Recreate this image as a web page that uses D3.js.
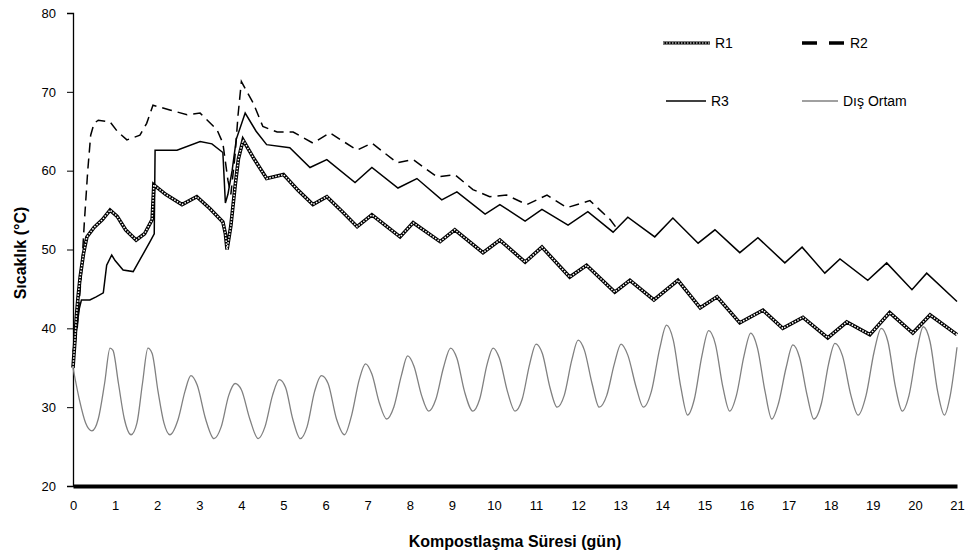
<html>
<head>
<script src="https://d3js.org/d3.v7.min.js"></script>
<style>
  body { margin: 0; background: #fff; }
  svg text { font-family: Arial, "Liberation Sans", sans-serif; fill: #000; }
  .axis .domain { stroke: #000; }
  .axis line { stroke: #000; }
</style>
</head>
<body>
<svg width="968" height="557" id="chart"></svg>
<script>
// tick labels
const dayTicks = [0, 1, 2, 3, 4, 5, 6, 7, 8, 9, 10, 11, 12, 13, 14, 15, 16, 17, 18, 19, 20, 21];
const tempTicks = [20, 30, 40, 50, 60, 70, 80];
const seriesNames = ['R1', 'R2', 'R3', 'Dış Ortam'];

// [day, °C]
const r1 = [[0,35],[0.04,38],[0.08,41.5],[0.12,44],[0.17,46.5],[0.25,49.5],[0.33,51.6],[0.5,52.8],[0.7,53.8],
  [0.88,55],[1.05,54.2],[1.25,52.5],[1.5,51.2],[1.7,52],[1.88,53.8],[1.92,58.2],[2.2,57],[2.59,55.7],
  [2.94,56.7],[3.25,55.2],[3.56,53.5],[3.62,52],[3.66,50],[3.75,53],[3.85,58],[3.93,61.5],[4.04,63.9],
  [4.3,61.5],[4.6,59],[5.0,59.5],[5.35,57.5],[5.7,55.7],[6.03,56.7],[6.4,54.8],[6.75,52.9],[7.1,54.4],
  [7.77,51.6],[8.08,53.4],[8.72,51],[9.07,52.5],[9.74,49.6],[10.14,51.2],[10.74,48.4],[11.14,50.3],
  [11.8,46.5],[12.2,48],[12.87,44.6],[13.23,46.1],[13.8,43.6],[14.37,46.1],[14.9,42.6],[15.3,44],
  [15.84,40.7],[16.39,42.3],[16.86,40],[17.34,41.4],[17.93,38.8],[18.38,40.8],[18.93,39.2],[19.4,42],
  [19.95,39.4],[20.36,41.7],[21,39.2]];

const r2 = [[0,36],[0.1,40],[0.2,47],[0.27,53.5],[0.35,60],[0.42,64.5],[0.5,66],[0.6,66.4],[0.88,66.2],
  [1.05,65],[1.28,63.9],[1.59,64.5],[1.75,66],[1.9,68.3],[2.3,67.7],[2.71,67.1],[3.02,67.3],[3.42,65.2],
  [3.56,63.5],[3.68,58.8],[3.75,57],[3.85,62],[3.92,67],[4.0,71.3],[4.28,68.6],[4.51,65.6],[4.85,64.9],
  [5.23,64.9],[5.7,63.5],[6.1,64.8],[6.75,62.6],[7.1,63.5],[7.7,61],[8.08,61.4],[8.65,59.2],[9.07,59.5],
  [9.5,57.6],[9.9,56.7],[10.3,56.9],[10.78,55.7],[11.26,56.9],[11.73,55.3],[12.28,56.2],[12.76,53.8],
  [12.9,52.8]];

const r3 = [[0,37],[0.05,38.5],[0.1,40.5],[0.15,42.5],[0.2,43.6],[0.4,43.6],[0.55,44],[0.72,44.5],
  [0.8,48],[0.92,49.3],[1.0,48.6],[1.19,47.4],[1.43,47.2],[1.6,48.8],[1.83,51],[1.93,52],[1.95,62.6],
  [2.47,62.6],[3.02,63.7],[3.3,63.4],[3.56,62.3],[3.62,55.9],[3.68,57],[3.78,60],[3.88,64],[4.09,67.3],
  [4.35,65],[4.6,63.3],[5.15,62.9],[5.63,60.4],[6.03,61.4],[6.7,58.5],[7.1,60.4],[7.72,57.8],[8.17,59],
  [8.76,56.3],[9.12,57.3],[9.79,54.5],[10.14,55.7],[10.74,53.6],[11.14,55.1],[11.76,53.1],[12.23,54.8],
  [12.83,52.2],[13.18,54.1],[13.82,51.6],[14.25,54],[14.85,50.8],[15.25,52.5],[15.84,49.6],[16.27,51.5],
  [16.91,48.3],[17.32,50.3],[17.86,47],[18.22,48.8],[18.88,46.1],[19.33,48.3],[19.93,44.9],[20.28,47],
  [21,43.4]];

const disOrtam = [[0,35],[0.15,31],[0.3,28],[0.45,27],[0.6,28.5],[0.75,33],[0.88,37.5],[0.95,37.2],
  [1.08,33],[1.22,28.5],[1.38,26.5],[1.52,28],[1.65,33],[1.78,37.5],[1.88,36.8],[2.02,32],[2.16,28],
  [2.3,26.5],[2.5,28.5],[2.66,32],[2.8,34],[2.95,32.8],[3.15,28.5],[3.35,26],[3.52,27.5],[3.7,31.5],
  [3.85,33],[4.0,32.2],[4.2,28.5],[4.4,26],[4.56,27.5],[4.74,31.5],[4.9,33.5],[5.05,32.5],[5.22,28.5],
  [5.4,26],[5.56,27.5],[5.74,32],[5.9,34],[6.06,33],[6.26,28.5],[6.45,26.5],[6.62,29],[6.8,33.5],
  [6.95,35.5],[7.1,34.2],[7.28,30.5],[7.45,28.5],[7.62,30],[7.8,34],[7.95,36.5],[8.1,35.2],[8.28,31.5],
  [8.45,29.5],[8.62,31],[8.8,35],[8.97,37.5],[9.12,36.2],[9.3,32],[9.5,29.5],[9.66,31],[9.84,35.5],
  [9.98,37.5],[10.13,36.2],[10.32,32],[10.5,29.5],[10.67,31],[10.85,35.5],[11.0,38],[11.15,36.8],
  [11.33,32.5],[11.5,30],[11.67,31.5],[11.85,36],[12.0,38.5],[12.15,37.2],[12.33,33],[12.5,30],
  [12.68,31.5],[12.86,35.5],[13.02,38],[13.18,36.6],[13.38,32.5],[13.55,30],[13.74,32],[13.94,37.5],
  [14.1,40.4],[14.26,38.5],[14.44,32.5],[14.6,29],[14.76,31],[14.94,36.5],[15.1,39.7],[15.26,38],
  [15.44,32.5],[15.6,29.5],[15.76,31.5],[15.94,36.5],[16.1,39.4],[16.26,37.5],[16.44,32],[16.6,28.5],
  [16.76,30.5],[16.94,35],[17.1,37.9],[17.26,36.3],[17.44,31.5],[17.6,28.5],[17.78,30.5],[17.95,35.5],
  [18.1,38.1],[18.28,36.5],[18.48,31.5],[18.65,29],[18.84,31.5],[19.03,37],[19.2,40],[19.36,38.3],
  [19.54,32.5],[19.7,29.5],[19.86,31.5],[20.04,37],[20.2,40.2],[20.36,38.3],[20.54,32],[20.7,29],
  [20.84,31.5],[21,37.6]];

let margin = { "top": 13, "right": 11, "bottom": 71, "left": 73 };
const svg = d3.select('svg#chart');
const width = +svg.attr('width');
const height = +svg.attr('height');
const chartWidth = width - margin.left - margin.right;
const chartHeight = height - margin.top - margin.bottom;

let dayScale = d3.scaleLinear().domain([0, 21]).range([0, chartWidth]);
let tempScale = d3.scaleLinear().domain([20, 80]).range([chartHeight, 0]);

// y axis
let yAxis = d3.axisLeft(tempScale).tickValues(tempTicks).tickSize(6).tickPadding(11);
let yG = svg.append('g')
  .attr('class', 'y axis')
  .attr('transform', `translate(${margin.left}, ${margin.top})`)
  .call(yAxis);
yG.selectAll('text').attr('font-size', 13);
yG.select('.domain').attr('stroke-width', 1.3);

let chart = svg.append('g')
  .attr('transform', `translate(${margin.left}, ${margin.top})`);

let line = d3.line()
  .x(d => dayScale(d[0]))
  .y(d => tempScale(d[1]));

let smoothLine = d3.line()
  .x(d => dayScale(d[0]))
  .y(d => tempScale(d[1]))
  .curve(d3.curveMonotoneX);

// Dış Ortam
chart.append('path')
  .datum(disOrtam)
  .attr('d', smoothLine)
  .attr('fill', 'none')
  .attr('stroke', '#808080')
  .attr('stroke-width', 1.3);

// R3
chart.append('path')
  .datum(r3)
  .attr('d', line)
  .attr('fill', 'none')
  .attr('stroke', '#000')
  .attr('stroke-width', 1.5);

// R2
chart.append('path')
  .datum(r2)
  .attr('d', line)
  .attr('fill', 'none')
  .attr('stroke', '#000')
  .attr('stroke-width', 1.5)
  .attr('stroke-dasharray', '10,6');

// R1 - hatched: black band with white dots on top
chart.append('path')
  .datum(r1)
  .attr('d', line)
  .attr('fill', 'none')
  .attr('stroke', '#000')
  .attr('stroke-width', 3.6);
chart.append('path')
  .datum(r1)
  .attr('d', line)
  .attr('fill', 'none')
  .attr('stroke', '#fff')
  .attr('stroke-width', 1.5)
  .attr('stroke-dasharray', '1.5,1.5');

// x axis (thick)
let xAxis = d3.axisBottom(dayScale).tickValues(dayTicks).tickSize(0).tickPadding(15);
let xG = svg.append('g')
  .attr('class', 'x axis')
  .attr('transform', `translate(${margin.left}, ${margin.top + chartHeight})`)
  .call(xAxis);
xG.selectAll('text').attr('font-size', 13);
xG.select('.domain').attr('stroke-width', 4);

// axis titles
svg.append('text')
  .attr('x', 515)
  .attr('y', 547)
  .attr('text-anchor', 'middle')
  .attr('font-size', 16)
  .attr('font-weight', 'bold')
  .text('Kompostlaşma Süresi (gün)');

svg.append('text')
  .attr('transform', 'translate(26, 253) rotate(-90)')
  .attr('text-anchor', 'middle')
  .attr('font-size', 16)
  .attr('font-weight', 'bold')
  .text('Sıcaklık (°C)');

// legend
const legendPos = [[663, 43], [802, 43], [666, 101], [802, 101]];
let legend = svg.append('g').attr('class', 'legend');
seriesNames.forEach(function(name, i) {
  let p = legendPos[i];
  let len = (i == 2) ? 40 : (i == 3 ? 36 : 44);
  if (i == 0) {
    legend.append('line').attr('x1', p[0]).attr('x2', p[0] + 47).attr('y1', p[1]).attr('y2', p[1])
      .attr('stroke', '#000').attr('stroke-width', 3);
    legend.append('line').attr('x1', p[0]).attr('x2', p[0] + 47).attr('y1', p[1]).attr('y2', p[1])
      .attr('stroke', '#fff').attr('stroke-width', 1.2).attr('stroke-dasharray', '1.5,1.5');
    len = 47;
  } else if (i == 1) {
    legend.append('line').attr('x1', p[0]).attr('x2', p[0] + 43).attr('y1', p[1]).attr('y2', p[1])
      .attr('stroke', '#000').attr('stroke-width', 3.5).attr('stroke-dasharray', '15,12');
    len = 43;
  } else {
    legend.append('line').attr('x1', p[0]).attr('x2', p[0] + len).attr('y1', p[1]).attr('y2', p[1])
      .attr('stroke', i == 3 ? '#808080' : '#000').attr('stroke-width', 1.4);
  }
  legend.append('text')
    .attr('x', p[0] + len + 5)
    .attr('y', p[1] + 5)
    .attr('font-size', 14)
    .text(name);
});
</script>
</body>
</html>
